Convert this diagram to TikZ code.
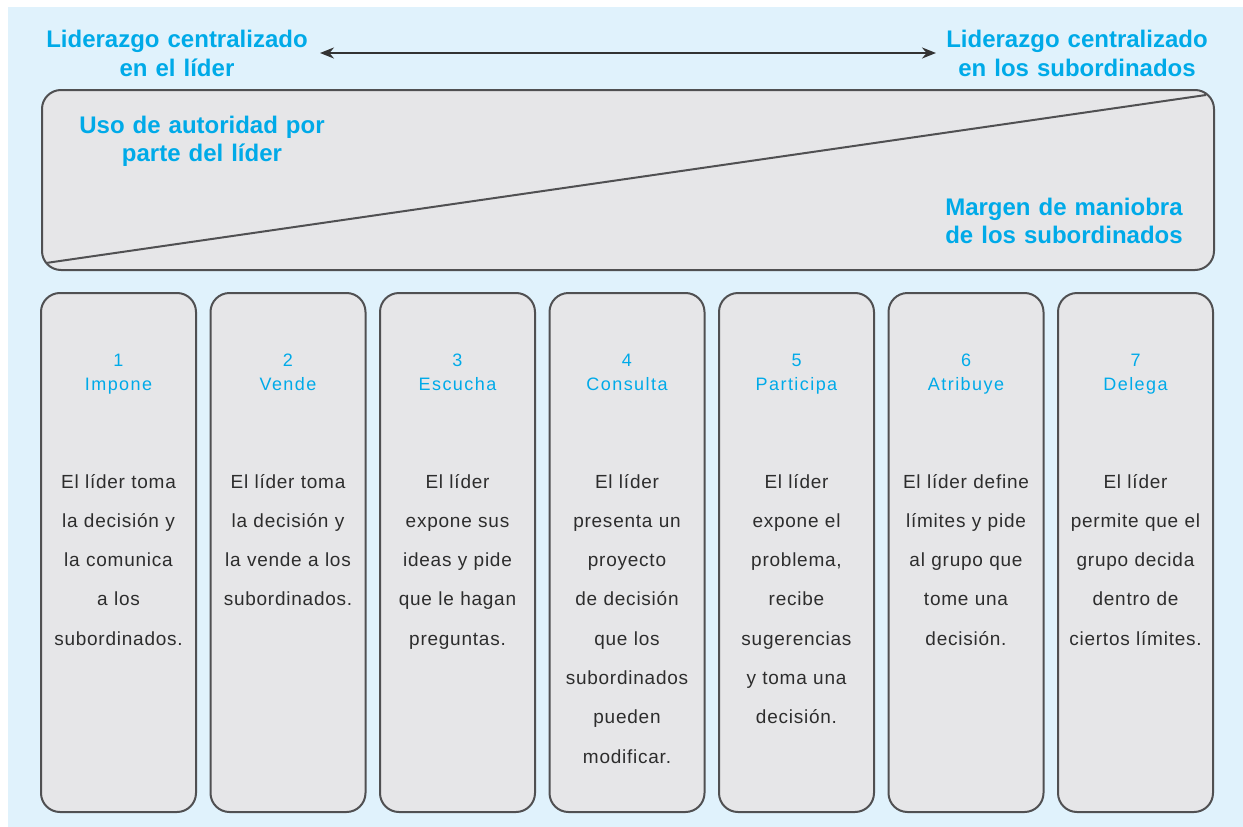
\documentclass[tikz,border=0pt]{standalone}
\usepackage{fontspec}
\setmainfont{Liberation Sans}
\usetikzlibrary{arrows.meta}
\definecolor{bgblue}{RGB}{224,242,252}
\definecolor{boxfill}{RGB}{230,230,232}
\definecolor{boxline}{RGB}{80,80,82}
\definecolor{cyantext}{RGB}{0,170,232}
\definecolor{bodytext}{RGB}{45,45,45}
\tikzset{
  panel/.style={draw=boxline, fill=boxfill, line width=2pt, rounded corners=19pt},
  headtext/.style={text=cyantext, font=\fontsize{24}{29}\selectfont\bfseries, align=center, text width=320pt, inner sep=0pt, anchor=base},
  sidetext/.style={text=cyantext, font=\fontsize{24}{28}\selectfont\bfseries, align=center, text width=320pt, inner sep=0pt, anchor=base},
  titletext/.style={text=cyantext, font=\fontsize{18}{23.5}\selectfont\addfontfeature{LetterSpace=8}, align=center, text width=150pt, inner sep=0pt, anchor=base},
  bodytxt/.style={text=bodytext, font=\fontsize{19}{39.3}\selectfont\addfontfeature{LetterSpace=4}, align=center, text width=150pt, inner sep=0pt, anchor=base},
  arrowline/.style={draw=black!80, line width=2pt, {Stealth[length=14pt,width=11pt]}-{Stealth[length=14pt,width=11pt]}}
}
\begin{document}
\begin{tikzpicture}[x=1pt,y=-1pt]
\useasboundingbox (0,0) rectangle (1243,827);
\fill[bgblue] (8,7) rectangle (1243,827);

% header labels
\node[headtext] (hl) at (177,47) {Liderazgo centralizado\\en el líder};
\node[headtext] (hr) at (1077,47) {Liderazgo centralizado\\en los subordinados};
\coordinate (al) at (320,53);
\coordinate (ar) at (936,53);
\draw[arrowline] (al) -- (ar);

% top panel
\node[panel, minimum width=1172pt, minimum height=180pt, anchor=north west, inner sep=0pt] (top) at (41,89) {};
\coordinate (d1) at (46,263);
\coordinate (d2) at (1206,95);
\draw[boxline, line width=2pt] (d1) -- (d2);
\node[sidetext] (uso) at (202,133) {Uso de autoridad por\\parte del líder};
\node[sidetext] (mar) at (1064,215) {Margen de maniobra\\de los subordinados};

% columns
\foreach \i/\num/\ttl/\body in {
 1/1/Impone/{El líder toma\\la decisión y\\la comunica\\a los\\subordinados.},
 2/2/Vende/{El líder toma\\la decisión y\\la vende a los\\subordinados.},
 3/3/Escucha/{El líder\\expone sus\\ideas y pide\\que le hagan\\preguntas.},
 4/4/Consulta/{El líder\\presenta un\\proyecto\\de decisión\\que los\\subordinados\\pueden\\modificar.},
 5/5/Participa/{El líder\\expone el\\problema,\\recibe\\sugerencias\\y toma una\\decisión.},
 6/6/Atribuye/{El líder define\\límites y pide\\al grupo que\\tome una\\decisión.},
 7/7/Delega/{El líder\\permite que el\\grupo decida\\dentro de\\ciertos límites.}}
{
  \pgfmathsetmacro{\cx}{118.5+169.5*(\i-1)}
  \node[panel, minimum width=155pt, minimum height=519pt, inner sep=0pt, anchor=north] (col\i) at (\cx,292) {};
  \node[titletext] (ttl\i) at (\cx,366.5) {\num\\\ttl};
  \node[bodytxt] (body\i) at (\cx,488) {\body};
}
\end{tikzpicture}
\end{document}
